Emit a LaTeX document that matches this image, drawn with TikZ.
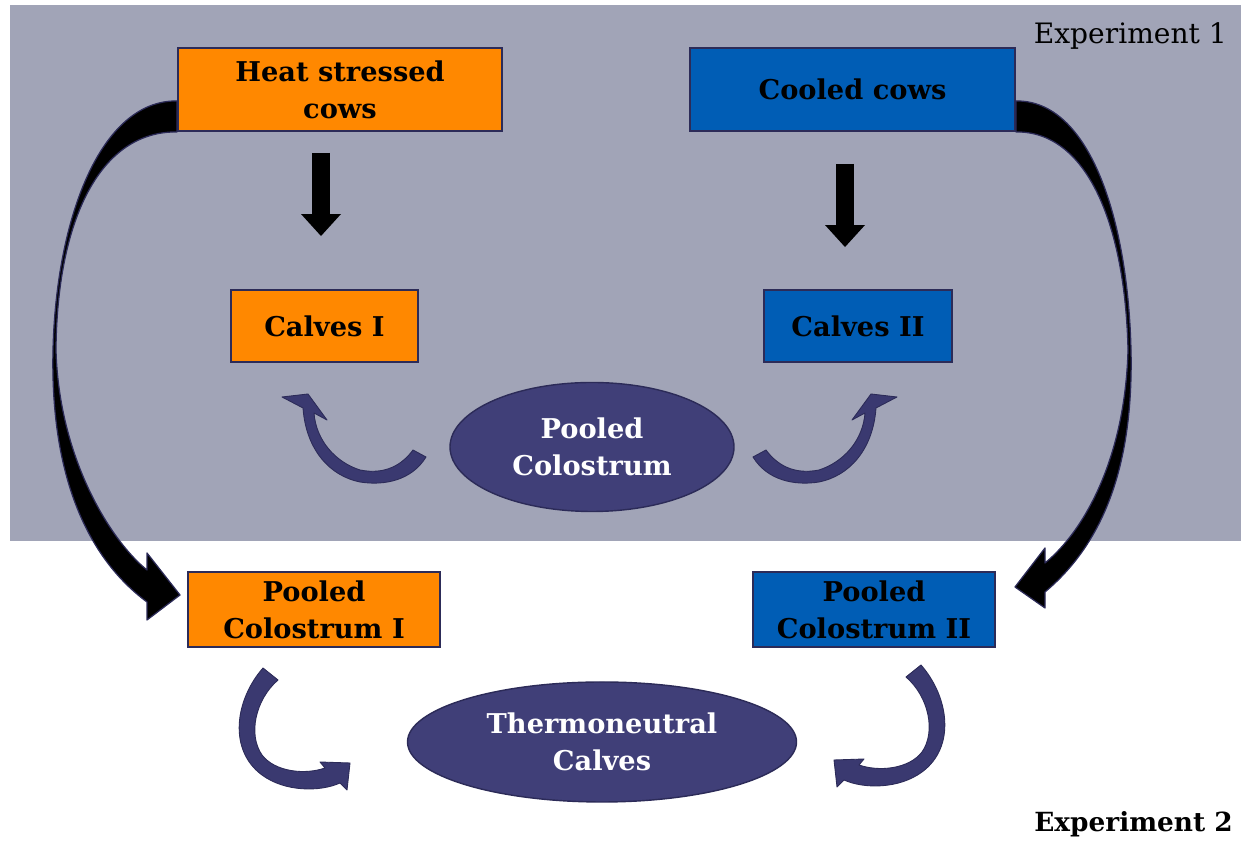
\documentclass[tikz,border=0pt]{standalone}
\usepackage{fontspec}
\setmainfont{DejaVu Serif}
\usetikzlibrary{positioning, arrows.meta, shapes.geometric, calc}
\definecolor{hcorange}{HTML}{FF8800}
\definecolor{hcblue}{HTML}{005DB5}
\definecolor{hcnavy}{HTML}{2C2B58}
\definecolor{hcslate}{HTML}{403F78}
\definecolor{hcgray}{HTML}{A1A4B7}
\definecolor{hccurl}{HTML}{3A3970}
% curled feed arrow, upward hook (drawn for the left side, mirrored for the right)
\newcommand{\hchook}{%
  \draw[curl] (8.52,7.70) .. controls (8.24,7.24) and (7.70,7.12) .. (7.20,7.20)
    .. controls (6.60,7.32) and (6.12,7.84) .. (6.06,8.68)
    -- (5.64,8.90) -- (6.16,8.96) -- (6.54,8.44) -- (6.28,8.58)
    .. controls (6.32,8.04) and (6.70,7.60) .. (7.20,7.44)
    .. controls (7.70,7.34) and (8.04,7.54) .. (8.26,7.84) -- cycle;}
% curled feed arrow, downward loop
\newcommand{\hcloop}{%
  \draw[curl] (5.26,3.48) .. controls (4.70,2.84) and (4.56,1.84) .. (5.24,1.34)
    .. controls (5.70,1.00) and (6.40,1.00) .. (6.80,1.18)
    -- (6.94,1.04) -- (7.00,1.58) -- (6.40,1.60) -- (6.50,1.48)
    .. controls (6.10,1.34) and (5.50,1.40) .. (5.24,1.74)
    .. controls (4.96,2.14) and (5.10,2.84) .. (5.56,3.24) -- cycle;}

\begin{document}
\begin{tikzpicture}[
    >={Triangle[width=0.8cm, length=0.44cm, line width=0pt]},
    font=\fontsize{15.5}{21}\selectfont\bfseries,
    % ---- shared styles ---------------------------------------------------
    box/.style={draw=hcnavy, line width=1.1pt, align=center, inner sep=0pt},
    hot/.style={box, fill=hcorange},
    cold/.style={box, fill=hcblue},
    pool/.style={ellipse, draw=hcnavy, fill=hcslate, line width=0.8pt,
                 text=white, align=center, inner sep=0pt},
    drop/.style={->, draw=black, line width=0.36cm},
    sweep/.style={fill=black, draw=hcnavy, line width=0.7pt, line join=round},
    curl/.style={fill=hccurl, draw=hcnavy, line width=0.5pt, line join=round},
    tag/.style={anchor=east, font=\fontsize{16}{18}\selectfont},
  ]
\useasboundingbox (0,0) rectangle (24.82,16.84);
\fill[white] (0,0) rectangle (24.82,16.84);

% =========================================================================
% TOP -- experiment 1 panel
% =========================================================================
\fill[hcgray] (0.20,6.02) rectangle (24.82,16.74);
\node[tag] (exp1) at (24.66,16.12) {Experiment 1};

\node[hot, minimum width=6.48cm, minimum height=1.66cm] (heat) at (6.80,15.05)
  {Heat stressed\\cows};
\node[cold, minimum width=6.50cm, minimum height=1.66cm] (cooled) at (17.05,15.05)
  {Cooled cows};
\node[hot, minimum width=3.74cm, minimum height=1.44cm] (calvesI) at (6.49,10.32)
  {Calves I};
\node[cold, minimum width=3.76cm, minimum height=1.44cm] (calvesII) at (17.16,10.32)
  {Calves II};
\node[pool, minimum width=5.68cm, minimum height=2.58cm] (pool) at (11.84,7.90)
  {Pooled\\Colostrum};

% cows -> calves
\draw[drop] ([xshift=-0.38cm,yshift=-0.42cm]heat.south)
  -- ([xshift=-0.07cm,yshift=1.06cm]calvesI.north);
\draw[drop] ([xshift=-0.15cm,yshift=-0.64cm]cooled.south)
  -- ([xshift=-0.26cm,yshift=0.84cm]calvesII.north);

% pooled colostrum fed back to both calf groups
\hchook
\begin{scope}[xshift=23.58cm, xscale=-1]
  \hchook
\end{scope}

% =========================================================================
% BOTTOM -- experiment 2
% =========================================================================
\node[hot, minimum width=5.04cm, minimum height=1.50cm] (pcI) at (6.28,4.65)
  {Pooled\\Colostrum I};
\node[cold, minimum width=4.84cm, minimum height=1.50cm] (pcII) at (17.48,4.65)
  {Pooled\\Colostrum II};
\node[pool, minimum width=7.78cm, minimum height=2.40cm] (thermo) at (12.04,2.00)
  {Thermoneutral\\Calves};
\node[tag, font=\fontsize{15}{18}\selectfont\bfseries] (exp2) at (24.78,0.36)
  {Experiment 2};

% big sweeps: colostrum of each cow group collected for experiment 2
\draw[sweep] ([yshift=0.62cm]heat.south west)
  .. controls (2.00,14.84) and (1.12,12.44) .. (1.06,9.84)
  .. controls (1.00,7.24) and (1.80,5.64) .. (2.94,4.80)
  -- (2.94,4.44) -- (3.60,4.94) -- (2.94,5.78) -- (2.94,5.44)
  .. controls (2.24,6.00) and (1.18,7.64) .. (1.12,9.84)
  .. controls (1.14,12.44) and (2.00,14.22) .. (heat.south west) -- cycle;
\draw[sweep] ([yshift=0.62cm]cooled.south east)
  .. controls (21.80,14.84) and (22.56,12.44) .. (22.62,9.84)
  .. controls (22.68,7.24) and (21.90,5.84) .. (20.90,5.00)
  -- (20.90,4.68) -- (20.30,5.10) -- (20.90,5.88) -- (20.90,5.58)
  .. controls (21.66,6.20) and (22.50,7.64) .. (22.56,9.84)
  .. controls (22.50,12.44) and (21.70,14.22) .. (cooled.south east) -- cycle;

% each pool fed to the thermoneutral calves
\hcloop
\begin{scope}[xshift=23.68cm, yshift=0.06cm, xscale=-1]
  \hcloop
\end{scope}

\end{tikzpicture}
\end{document}
